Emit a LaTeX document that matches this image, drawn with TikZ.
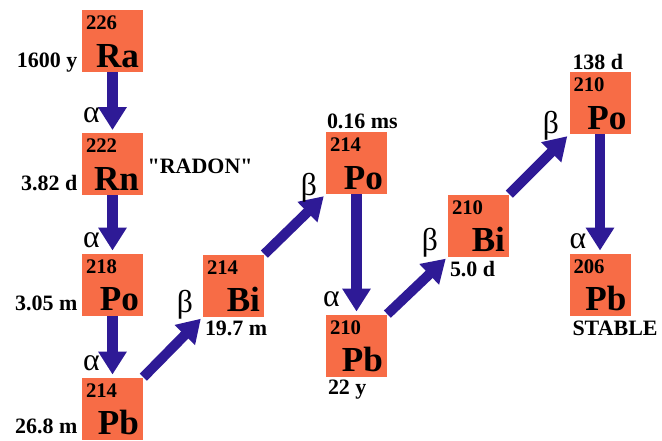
\documentclass[tikz,border=0pt]{standalone}
\usepackage{fontspec}
\setmainfont{Liberation Serif}
\usetikzlibrary{arrows.meta}
\definecolor{nucorange}{RGB}{247,108,70}
\definecolor{decayblue}{RGB}{46,26,150}

\begin{document}
\begin{tikzpicture}[x=0.02cm,y=-0.02cm,nucbox/.style={fill=nucorange, inner sep=0, minimum width=1.22cm, minimum height=1.24cm},massno/.style={inner sep=0, font=\bfseries\fontsize{11.8}{13}\selectfont},symb/.style={inner sep=0, font=\bfseries\fontsize{20}{22}\selectfont},life/.style={inner sep=0, font=\bfseries\fontsize{12.5}{14}\selectfont},greek/.style={inner sep=0, font=\fontsize{18}{20}\selectfont},decay/.style={-{Triangle[width=15.4pt,length=13pt]}, line width=5.7pt, decayblue, shorten >=1.5pt}]
\newcommand{\nuc}[4]{\node[nucbox] (#1) at (#2) {};\node[massno, anchor=north west] (#1m) at ([shift={(4,6)}]#1.north west) {#3};\node[symb, anchor=base east] (#1s) at ([shift={(-4,-5)}]#1.south east) {#4};}
\useasboundingbox (0,0) rectangle (662,440);
% the chain of nuclides
\nuc{ra}{112.5,41}{226}{Ra}
\nuc{rn}{112.5,164}{222}{Rn}
\nuc{poA}{112.5,284.5}{218}{Po}
\nuc{pbA}{112.5,408.5}{214}{Pb}
\nuc{biA}{233.5,285.5}{214}{Bi}
\nuc{poB}{356.5,163}{214}{Po}
\nuc{pbB}{356.5,345.5}{210}{Pb}
\nuc{biB}{478.5,225.5}{210}{Bi}
\nuc{poC}{600,103}{210}{Po}
\nuc{pbC}{600,284.5}{206}{Pb}
% half-lives
\node[life, anchor=base east] (raT) at ([shift={(-4,-5)}]ra.south west) {1600 y};
\node[life, anchor=base east] (rnT) at ([shift={(-4,-5)}]rn.south west) {3.82 d};
\node[life, anchor=west] (rnN) at ([shift={(4,2)}]rn.east) {\textquotedbl RADON\textquotedbl};
\node[life, anchor=base east] (poAT) at ([shift={(-4,-5)}]poA.south west) {3.05 m};
\node[life, anchor=base east] (pbAT) at ([shift={(-4,-6)}]pbA.south west) {26.8 m};
\node[life, anchor=north west] (biAT) at ([shift={(2,4)}]biA.south west) {19.7 m};
\node[life, anchor=south west] (poBT) at ([shift={(1,-2)}]poB.north west) {0.16 ms};
\node[life, anchor=north west] (pbBT) at ([shift={(2,3)}]pbB.south west) {22 y};
\node[life, anchor=north west] (biBT) at ([shift={(2,4)}]biB.south west) {5.0 d};
\node[life, anchor=south west] (poCT) at ([shift={(3,-2)}]poC.north west) {138 d};
\node[life, anchor=north west] (pbCT) at ([shift={(3,5)}]pbC.south west) {STABLE};
% decays
\draw[decay] (ra) -- (rn);
\draw[decay] (rn) -- (poA);
\draw[decay] (poA) -- (pbA);
\draw[decay] (pbA.north east) -- (biA.south west);
\draw[decay] (biA.north east) -- (poB.south west);
\draw[decay] (poB) -- (pbB);
\draw[decay] (pbB.north east) -- (biB.south west);
\draw[decay] (biB.north east) -- (poC.south west);
\draw[decay] (poC) -- (pbC);
\node[greek] (a1) at (91.5,115) {α};
\node[greek] (a2) at (91.5,240) {α};
\node[greek] (a3) at (91.5,363.5) {α};
\node[greek] (a4) at (331.5,299) {α};
\node[greek] (a5) at (578,241) {α};
\node[greek] (b1) at (185,305) {β};
\node[greek] (b2) at (309,188) {β};
\node[greek] (b3) at (430,243) {β};
\node[greek] (b4) at (551,126) {β};
\end{tikzpicture}
\end{document}
